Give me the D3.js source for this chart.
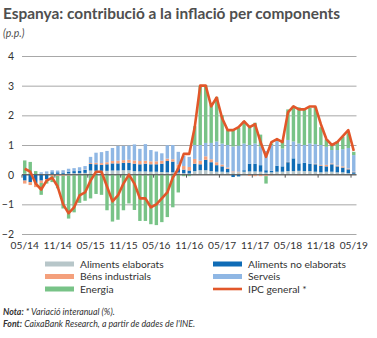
<!DOCTYPE html>
<html>
<head>
<meta charset="utf-8">
<script src="https://cdn.jsdelivr.net/npm/d3@7"></script>
<style>
  html, body { margin: 0; padding: 0; background: #fff; }
  svg { display: block; font-family: Lato, "Open Sans", sans-serif; }
</style>
</head>
<body>
<svg id="chart" width="377" height="338"></svg>
<script>
// ---------- DATA ----------
const months = [
  "05/14","06/14","07/14","08/14","09/14","10/14","11/14","12/14",
  "01/15","02/15","03/15","04/15","05/15","06/15","07/15","08/15","09/15","10/15","11/15","12/15",
  "01/16","02/16","03/16","04/16","05/16","06/16","07/16","08/16","09/16","10/16","11/16","12/16",
  "01/17","02/17","03/17","04/17","05/17","06/17","07/17","08/17","09/17","10/17","11/17","12/17",
  "01/18","02/18","03/18","04/18","05/18","06/18","07/18","08/18","09/18","10/18","11/18","12/18",
  "01/19","02/19","03/19","04/19","05/19"
];
const xTickLabels = ["05/14","11/14","05/15","11/15","05/16","11/16","05/17","11/17","05/18","11/18","05/19"];
const yTicks = [-2, -1, 0, 1, 2, 3, 4];

const alimentsElaborats = [
  0.03,0.03,0.02,0.03,0.03,0.03,0.03,0.03,0.04,0.05,0.05,0.06,
  0.14,0.13,0.13,0.13,0.14,0.14,0.15,0.15,0.12,0.11,0.11,0.10,
  0.10,0.09,0.08,0.08,0.07,0.05,0.04,0.12,0.15,0.15,0.12,0.10,
  0.10,0.08,0.08,0.08,0.10,0.11,0.11,0.10,0.07,0.08,0.10,0.10,
  0.12,0.12,0.13,0.12,0.12,0.10,0.08,0.10,0.10,0.08,0.08,0.05,0.03
];
const alimentsNoElaborats = [
  -0.20,-0.25,-0.30,-0.20,-0.15,0.05,0.05,0.04,0.06,0.07,0.08,0.10,
  0.22,0.22,0.20,0.22,0.24,0.24,0.25,0.25,0.25,0.24,0.26,0.25,
  0.25,0.28,0.38,0.36,0.15,0.12,0.10,0.25,0.20,0.35,0.30,0.22,
  0.18,0.12,-0.08,-0.06,0.05,0.26,0.26,0.22,0.08,0.05,0.20,0.18,
  0.30,0.43,0.25,0.28,0.25,0.25,0.22,0.18,0.25,0.20,0.16,0.13,0.05
];
const bensIndustrials = [
  -0.10,-0.10,-0.12,-0.08,-0.05,-0.05,-0.04,-0.04,-0.03,-0.02,0.00,0.01,
  0.03,0.05,0.06,0.07,0.08,0.09,0.09,0.10,0.11,0.11,0.10,0.10,
  0.10,0.10,0.08,0.08,0.12,0.12,0.12,0.16,0.12,0.12,0.10,0.10,
  0.06,0.04,0.03,0.02,0.00,-0.04,-0.05,-0.05,-0.05,-0.02,-0.01,0.00,
  0.01,0.00,-0.02,0.00,0.00,0.02,0.03,0.05,0.03,0.03,0.04,0.03,0.02
];
const serveis = [
  0.00,0.00,0.00,0.05,0.08,0.07,0.06,0.08,0.10,0.10,0.12,0.12,
  0.21,0.34,0.37,0.38,0.44,0.50,0.48,0.48,0.54,0.41,0.56,0.38,
  0.33,0.25,0.45,0.48,0.43,0.34,0.34,0.47,0.53,0.45,0.55,0.70,
  0.71,0.76,0.84,0.88,0.90,0.63,0.68,0.63,0.65,0.87,0.83,0.60,
  0.74,0.57,0.67,0.60,0.68,0.66,0.67,0.61,0.45,0.52,0.58,0.69,0.56
];
const energia = [
  0.45,0.40,0.10,-0.40,-0.10,-0.20,-0.42,-1.10,-1.45,-1.25,-0.95,-0.88,
  -0.80,-0.65,-0.68,-1.20,-1.58,-1.52,-1.20,-0.97,-1.19,-1.56,-1.56,-1.67,
  -1.70,-1.60,-1.43,-1.10,-0.60,-0.05,-0.05,0.63,2.00,1.95,1.30,1.50,
  0.95,0.50,0.55,0.60,0.75,0.60,0.70,0.40,-0.25,0.05,0.05,0.28,
  1.03,1.20,1.22,1.20,1.20,1.25,0.60,0.25,0.20,0.30,0.42,0.50,0.11
];
const ipcGeneral = [
  0.2,0.1,-0.3,-0.5,-0.2,-0.1,-0.4,-1.0,
  -1.3,-1.1,-0.7,-0.6,-0.2,0.1,0.1,-0.4,-0.9,-0.7,-0.3,0.0,
  -0.3,-0.8,-0.8,-1.1,-1.0,-0.8,-0.6,-0.1,0.2,0.7,0.7,1.6,
  3.0,3.0,2.3,2.6,1.9,1.5,1.5,1.6,1.8,1.6,1.7,1.1,
  0.6,1.1,1.2,1.1,2.1,2.3,2.2,2.2,2.3,2.3,1.7,1.2,
  1.0,1.1,1.3,1.5,0.8
];

const seriesKeys = ["elab", "noelab", "ind", "serv", "ener"];
const seriesNames = {
  elab: "Aliments elaborats", noelab: "Aliments no elaborats",
  ind: "Béns industrials", serv: "Serveis", ener: "Energia"
};
const colors = {
  elab: "#b7c6c9", noelab: "#0f6cb6", ind: "#f4a07c",
  serv: "#8fb7e4", ener: "#78c387", ipc: "#e2572a"
};

// ---------- BUILD ----------
const table = months.map((m, i) => ({
  month: m,
  elab: alimentsElaborats[i], noelab: alimentsNoElaborats[i],
  ind: bensIndustrials[i], serv: serveis[i], ener: energia[i],
  ipc: ipcGeneral[i]
}));

const svg = d3.select("#chart");
const plotLeft = 22, plotRight = 356.5, plotTop = 56, plotBottom = 234;

const x = d3.scaleBand().domain(months).range([plotLeft, plotRight])
  .paddingInner(0.38).paddingOuter(0.19);
const y = d3.scaleLinear().domain([-2, 4]).range([plotBottom, plotTop]);

// Title
svg.append("text").attr("x", 3).attr("y", 19)
  .attr("font-size", 15.5).attr("font-weight", 700).attr("fill", "#4f4f4f")
  .attr("textLength", 337).attr("lengthAdjust", "spacingAndGlyphs")
  .text("Espanya: contribució a la inflació per components");
svg.append("text").attr("x", 3).attr("y", 37)
  .attr("font-size", 10.5).attr("font-style", "italic").attr("fill", "#4f4f4f")
  .text("(p.p.)");

// Gridlines + y labels
const yAxis = d3.axisLeft(y).tickValues(yTicks).tickSize(-(plotRight - plotLeft)).tickFormat(d3.format("d"));
const gy = svg.append("g").attr("transform", `translate(${plotLeft},0)`).call(yAxis);
gy.select(".domain").remove();
gy.selectAll(".tick line").attr("stroke", "#a8a8a8").attr("stroke-width", 1);
gy.selectAll(".tick text").attr("x", -8).attr("font-size", 10.5).attr("fill", "#333")
  .attr("font-family", "Lato, sans-serif");

// Stacked bars
const stack = d3.stack().keys(seriesKeys).offset(d3.stackOffsetDiverging);
const stacked = stack(table);
svg.append("g").selectAll("g").data(stacked).join("g")
  .attr("fill", d => colors[d.key])
  .selectAll("rect").data(d => d).join("rect")
  .attr("x", d => x(d.data.month))
  .attr("width", x.bandwidth())
  .attr("y", d => y(Math.max(d[0], d[1])))
  .attr("height", d => Math.abs(y(d[0]) - y(d[1])));

// Zero line with ticks between categories
svg.append("line").attr("x1", plotLeft).attr("x2", plotRight)
  .attr("y1", y(0)).attr("y2", y(0)).attr("stroke", "#555").attr("stroke-width", 1);
const gap = (x.step() - x.bandwidth()) / 2;
svg.append("g").selectAll("line").data(xTickLabels).join("line")
  .attr("x1", d => x(d) - gap).attr("x2", d => x(d) - gap)
  .attr("y1", y(0)).attr("y2", y(0) + 3)
  .attr("stroke", "#555").attr("stroke-width", 1);

// IPC line
const line = d3.line()
  .x(d => x(d.month) + x.bandwidth() / 2)
  .y(d => y(d.ipc));
svg.append("path").datum(table)
  .attr("fill", "none").attr("stroke", colors.ipc)
  .attr("stroke-width", 2.6).attr("stroke-linejoin", "round")
  .attr("d", line);

// X axis labels
const xAxis = d3.axisBottom(x).tickValues(xTickLabels).tickSize(0).tickPadding(0);
const gx = svg.append("g").attr("transform", `translate(0,${plotBottom + 8})`).call(xAxis);
gx.select(".domain").remove();
gx.selectAll(".tick text").attr("font-size", 10.2).attr("fill", "#333")
  .attr("font-family", "Lato, sans-serif");

// Legend
const legendItems = [
  {key: "elab", col: 0, row: 0}, {key: "noelab", col: 1, row: 0},
  {key: "ind", col: 0, row: 1}, {key: "serv", col: 1, row: 1},
  {key: "ener", col: 0, row: 2}, {key: "ipc", col: 1, row: 2}
];
const legendNames = Object.assign({}, seriesNames, {ipc: "IPC general *"});
const lg = svg.append("g");
const colX = [45, 213], rowY = [264, 276.5, 289];
legendItems.forEach(it => {
  const lx = colX[it.col], ly = rowY[it.row];
  if (it.key === "ipc") {
    lg.append("line").attr("x1", lx).attr("x2", lx + 29)
      .attr("y1", ly).attr("y2", ly).attr("stroke", colors.ipc).attr("stroke-width", 2.6);
  } else {
    lg.append("rect").attr("x", lx).attr("y", ly - 2.5).attr("width", 29).attr("height", 5)
      .attr("fill", colors[it.key]);
  }
  lg.append("text").attr("x", lx + 35).attr("y", ly + 3.5)
    .attr("font-size", 10.3).attr("fill", "#333").text(legendNames[it.key]);
});

// Notes
const n1 = svg.append("text").attr("x", 3).attr("y", 315).attr("font-size", 8.8)
  .attr("font-style", "italic").attr("fill", "#333");
n1.append("tspan").attr("font-weight", 700).text("Nota:");
n1.append("tspan").text(" * Variació interanual (%).");
const n2 = svg.append("text").attr("x", 3).attr("y", 327).attr("font-size", 8.8)
  .attr("font-style", "italic").attr("fill", "#333");
n2.append("tspan").attr("font-weight", 700).text("Font:");
n2.append("tspan").text(" CaixaBank Research, a partir de dades de l'INE.");
</script>
</body>
</html>
